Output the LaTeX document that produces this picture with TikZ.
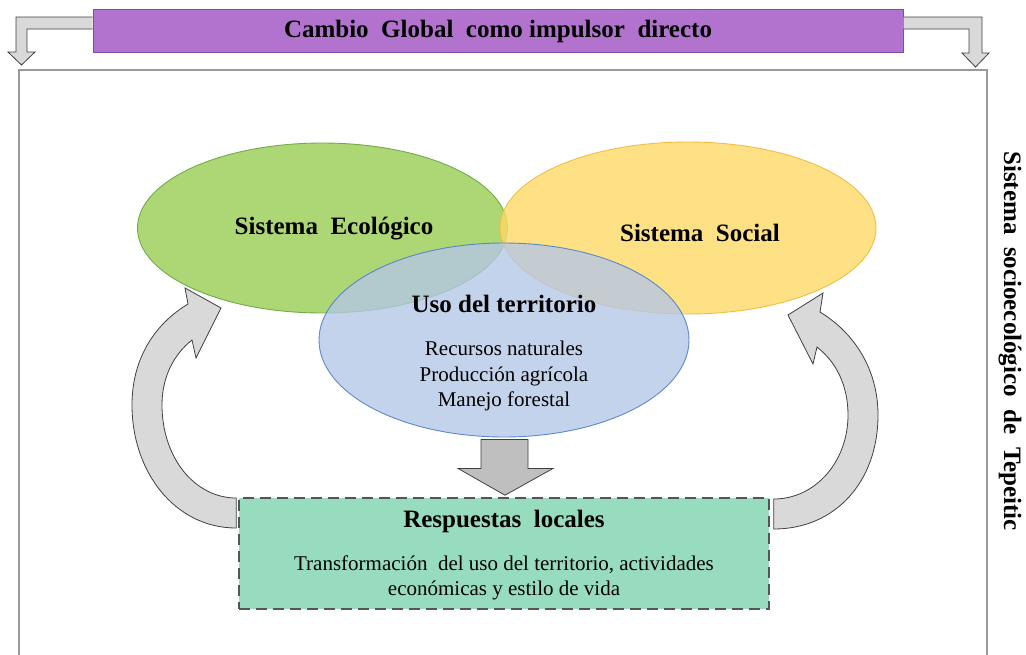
\documentclass[tikz,border=0pt]{standalone}
\usepackage{fontspec}
\setmainfont{Liberation Serif}
\usetikzlibrary{shapes.geometric,calc}
\definecolor{purfill}{HTML}{B273CF}
\definecolor{purdraw}{HTML}{8548A8}
\definecolor{ecofill}{HTML}{A9D46E}
\definecolor{ecodraw}{HTML}{70AD47}
\definecolor{socfill}{HTML}{FFD966}
\definecolor{socdraw}{HTML}{F0BE45}
\definecolor{usofill}{HTML}{B4C7E7}
\definecolor{usodraw}{HTML}{4F7FCB}
\definecolor{respfill}{HTML}{97DCBF}
\definecolor{respdraw}{HTML}{555555}
\definecolor{arrfill}{HTML}{D9D9D9}
\definecolor{arrdraw}{HTML}{404040}
\definecolor{downfill}{HTML}{BFBFBF}
\definecolor{framecol}{HTML}{9A9A9A}
\tikzset{
  head/.style={font=\fontsize{25}{30}\selectfont\bfseries, inner sep=0pt},
  body/.style={font=\fontsize{21}{25.5}\selectfont, inner sep=0pt, align=center},
  sys/.style={ellipse, inner sep=0pt, line width=0.9pt},
  grayarrow/.style={fill=arrfill, draw=arrdraw, line width=0.8pt, line join=miter},
}
\begin{document}
\begin{tikzpicture}[x=1pt,y=-1pt]
\useasboundingbox (0,0) rectangle (1026,654);
\clip (0,0) rectangle (1026,654);
% outer frame
\draw[framecol, line width=1.2pt] (19,70) rectangle (987,700);
% title
\node[fill=purfill, draw=purdraw, line width=1pt, minimum width=810pt, minimum height=43pt, inner sep=0pt,
      font=\fontsize{25}{30}\selectfont\bfseries] (title) at (498,31) {Cambio~ Global~ como impulsor~ directo};
% bent arrows from title
\coordinate (lt) at (title.west);
\coordinate (rt) at (title.east);
\draw[grayarrow] ($(lt)+(0,-14)$) -- (16,17) -- (16,52) -- (8,52) -- (21.5,65) -- (35,52) -- (27,52) -- (27,29) -- ($(lt)+(0,-2)$);
\draw[grayarrow] ($(rt)+(0,-14)$) -- (982,17) -- (982,53) -- (989,53) -- (975.5,67) -- (962,53) -- (969,53) -- (969,29) -- ($(rt)+(0,-2)$);
% ellipses
\node[sys, draw=ecodraw, fill=ecofill, fill opacity=0.95, minimum width=370pt, minimum height=170pt] (eco) at (322.5,228) {};
\node[sys, draw=socdraw, fill=socfill, fill opacity=0.8, minimum width=376pt, minimum height=172pt] (soc) at (688,228) {};
\node[sys, draw=usodraw, fill=usofill, fill opacity=0.78, draw opacity=0.9, minimum width=370pt, minimum height=194pt] (uso) at (504,340) {};
\node[head] (ecot) at (334,229) {Sistema~ Ecológico};
\node[head] (soct) at (700,233) {Sistema~ Social};
\node[head] (usot) at (504,304) {Uso del territorio};
\node[body] (usob) at (504,376) {Recursos naturales\\Producción agrícola\\Manejo forestal};
% responses box
\node[fill=respfill, draw=respdraw, line width=1.6pt, dash pattern=on 11pt off 6pt,
      minimum width=530pt, minimum height=111pt, inner sep=0pt] (resp) at (504,553.5) {};
\node[head] (respt) at (504,521) {Respuestas~ locales};
\node[body] (respb) at (504,578) {Transformación~ del uso del territorio, actividades\\económicas y estilo de vida};
% down arrow
\draw[grayarrow, fill=downfill] ($(uso.south)+(-23,2)$) -- ($(uso.south)+(24,2)$) -- ($(uso.south)+(24,31)$) -- ($(uso.south)+(49,31)$)
   -- ($(resp.north)+(1,-2)$) -- ($(uso.south)+(-46,31)$) -- ($(uso.south)+(-23,31)$) -- cycle;
% left circular arrow
\draw[grayarrow] ($(resp.west)+(-2,-25.5)$) .. controls (175,528) and (132,472) .. (132,405)
   .. controls (132,355) and (158,322) .. (188,304) -- (185,288) -- (221,308) -- (196,358) -- (192,340)
   .. controls (173,355) and (162,378) .. (162,405)
   .. controls (162,458) and (195,498) .. ($(resp.west)+(-2,-55.5)$) -- cycle;
% right circular arrow
\draw[grayarrow] ($(resp.east)+(4,-24.5)$) .. controls (835,529) and (878,482) .. (878,415)
   .. controls (878,368) and (853,332) .. (820,312) -- (823,293) -- (788,315) -- (813,364) -- (817,347)
   .. controls (836,362) and (848,385) .. (848,415)
   .. controls (848,462) and (815,499) .. ($(resp.east)+(4,-54.5)$) -- cycle;
% side label
\node[head, rotate=-90] (side) at (1010,341) {Sistema~ socioecológico~ de~ Tepeitic};
\end{tikzpicture}
\end{document}
